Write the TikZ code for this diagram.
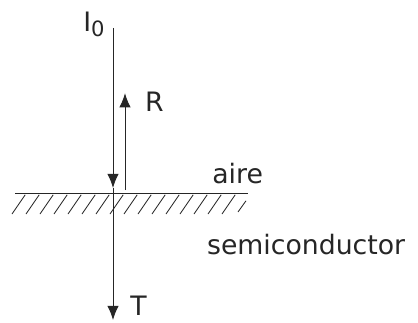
\documentclass[tikz,border=0pt]{standalone}
\usepackage{fontspec}
\setmainfont{DejaVu Sans}
\usepackage{tikz}
\usetikzlibrary{arrows.meta,calc,positioning}
\tikzset{
  rayo/.style={draw=black!85,line width=0.6pt},
  flecha/.style={rayo,-{Latex[length=10pt,width=8pt]}},
  rayado/.style={black!85,line width=0.6pt},
  etiq/.style={font=\fontsize{19}{22}\selectfont,inner sep=0pt,text=black!85}
}
\begin{document}
\begin{tikzpicture}
\useasboundingbox (0,0) rectangle (10.45,8.05);
% rayos
\coordinate (arriba) at (2.825,7.35);
\coordinate (choque) at (2.825,3.35);
\coordinate (abajo) at (2.825,0.05);
\coordinate (ref0) at (3.125,3.3);
\coordinate (ref1) at (3.125,5.72);
\draw[flecha] (arriba) -- (choque);
\draw[rayo] (choque) -- (2.825,3.225);
\draw[flecha] (2.825,3.225) -- (abajo);
\draw[flecha] (ref0) -- (ref1);
% superficie
\coordinate (sizq) at (0.375,3.225);
\coordinate (sder) at (6.2,3.225);
\draw[rayo] (sizq) -- (sder);
\foreach \x in {0.3,0.65,...,5.6}
  \draw[rayado] (\x,2.7) -- ++(0.33,0.48);
\draw[rayado] (5.95,2.75) -- ++(0.2,0.28);
% textos
\node[etiq] (io) at (2.35,7.45) {I\raisebox{-0.35ex}{\fontsize{15}{16}\selectfont 0}};
\node[etiq,anchor=west] (r) at (3.62,5.5) {R};
\node[etiq,anchor=west] (t) at (3.25,0.4) {T};
\node[etiq,anchor=west] (aire) at (5.3,3.72) {aire};
\node[etiq,anchor=west] (semi) at (5.17,1.93) {semiconductor};
\end{tikzpicture}
\end{document}
